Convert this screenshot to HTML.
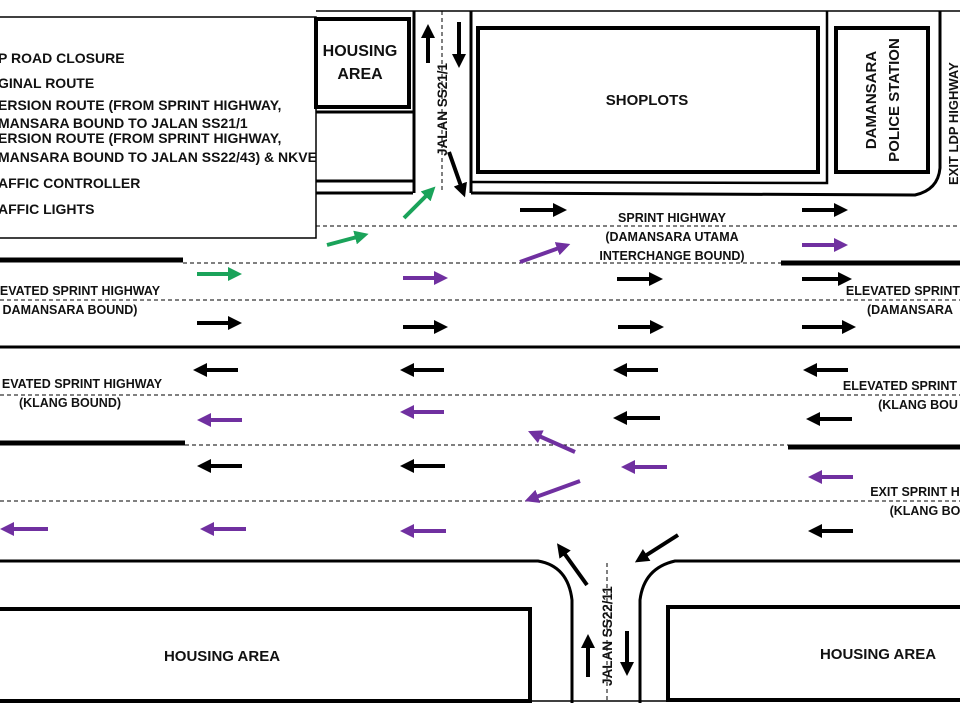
<!DOCTYPE html>
<html><head><meta charset="utf-8"><style>
html,body{margin:0;padding:0;background:#fff;}
svg{display:block;}
text{font-family:"Liberation Sans",sans-serif;font-weight:bold;fill:#111;}
</style></head><body>
<svg width="960" height="720" viewBox="0 0 960 720" xmlns="http://www.w3.org/2000/svg">
<defs>
<marker id="hk" markerUnits="userSpaceOnUse" markerWidth="14" markerHeight="14" refX="2" refY="7" orient="auto"><path d="M0,0 L14,7 L0,14 Z" fill="#000"/></marker>
<marker id="hp" markerUnits="userSpaceOnUse" markerWidth="14" markerHeight="14" refX="2" refY="7" orient="auto"><path d="M0,0 L14,7 L0,14 Z" fill="#7030a0"/></marker>
<marker id="hg" markerUnits="userSpaceOnUse" markerWidth="14" markerHeight="14" refX="2" refY="7" orient="auto"><path d="M0,0 L14,7 L0,14 Z" fill="#1aa35a"/></marker>
</defs>
<g fill="none" stroke="#000">
<line x1="316" y1="11" x2="960" y2="11" stroke-width="1.5"/>
<rect x="-5" y="17" width="321" height="221" stroke-width="1.5" fill="#fff"/>
<rect x="316" y="19" width="93" height="88" stroke-width="4"/>
<line x1="316" y1="112" x2="413" y2="112" stroke-width="3"/>
<line x1="316" y1="181" x2="413" y2="181" stroke-width="3"/>
<line x1="316" y1="193" x2="413" y2="193" stroke-width="3"/>
<line x1="414" y1="11" x2="414" y2="193" stroke-width="3"/>
<line x1="442" y1="11" x2="442" y2="190" stroke-width="1" stroke-dasharray="4,3"/>
<line x1="471" y1="11" x2="471" y2="193" stroke-width="3"/>
<path d="M471,193 L915,195 Q938,190 940,168 L940,11" stroke-width="3"/>
<path d="M827,11 L827,183 L472,182" stroke-width="2.5"/>
<rect x="478" y="28" width="340" height="144" stroke-width="4"/>
<rect x="836" y="28" width="92" height="144" stroke-width="4"/>
<line x1="316" y1="226" x2="960" y2="226" stroke-width="1" stroke-dasharray="4,3"/>
<line x1="183" y1="263" x2="781" y2="263" stroke-width="1" stroke-dasharray="4,3"/>
<line x1="0" y1="260" x2="183" y2="260" stroke-width="5"/>
<line x1="781" y1="263" x2="960" y2="263" stroke-width="5"/>
<line x1="0" y1="300" x2="960" y2="300" stroke-width="1" stroke-dasharray="4,3"/>
<line x1="0" y1="347" x2="960" y2="347" stroke-width="3"/>
<line x1="0" y1="395" x2="960" y2="395" stroke-width="1" stroke-dasharray="4,3"/>
<line x1="0" y1="443" x2="185" y2="443" stroke-width="5"/>
<line x1="185" y1="445" x2="788" y2="445" stroke-width="1" stroke-dasharray="4,3"/>
<line x1="788" y1="447" x2="960" y2="447" stroke-width="5"/>
<line x1="0" y1="501" x2="960" y2="501" stroke-width="1" stroke-dasharray="4,3"/>
<path d="M0,561 L538,561 Q568,566 572,600 L572,703" stroke-width="3"/>
<path d="M640,703 L640,600 Q644,568 675,561 L960,561" stroke-width="3"/>
<line x1="607" y1="563" x2="607" y2="700" stroke-width="1" stroke-dasharray="4,3"/>
<rect x="-5" y="609" width="535" height="92" stroke-width="4"/>
<rect x="668" y="607" width="300" height="93" stroke-width="4"/>
<line x1="0" y1="701" x2="960" y2="701" stroke-width="1.5"/>
</g>
<g stroke="#000" stroke-width="4" marker-end="url(#hk)">
<line x1="520" y1="210" x2="555" y2="210"/><line x1="802" y1="210" x2="836" y2="210"/>
<line x1="197" y1="323" x2="230" y2="323"/><line x1="403" y1="327" x2="436" y2="327"/>
<line x1="617" y1="279" x2="651" y2="279"/><line x1="802" y1="279" x2="840" y2="279"/>
<line x1="618" y1="327" x2="652" y2="327"/><line x1="802" y1="327" x2="844" y2="327"/>
<line x1="238" y1="370" x2="205" y2="370"/><line x1="444" y1="370" x2="412" y2="370"/>
<line x1="658" y1="370" x2="625" y2="370"/><line x1="848" y1="370" x2="815" y2="370"/>
<line x1="660" y1="418" x2="625" y2="418"/><line x1="852" y1="419" x2="818" y2="419"/>
<line x1="242" y1="466" x2="209" y2="466"/><line x1="445" y1="466" x2="412" y2="466"/>
<line x1="853" y1="531" x2="820" y2="531"/>
<line x1="428" y1="63" x2="428" y2="36"/><line x1="459" y1="22" x2="459" y2="56"/>
<line x1="449" y1="152" x2="461" y2="186"/>
<line x1="587" y1="585" x2="564" y2="553"/><line x1="678" y1="535" x2="645" y2="556"/>
<line x1="588" y1="677" x2="588" y2="646"/><line x1="627" y1="631" x2="627" y2="664"/>
</g>
<g stroke="#7030a0" stroke-width="4" marker-end="url(#hp)">
<line x1="520" y1="262" x2="559" y2="248"/><line x1="802" y1="245" x2="836" y2="245"/>
<line x1="403" y1="278" x2="436" y2="278"/>
<line x1="242" y1="420" x2="209" y2="420"/><line x1="444" y1="412" x2="412" y2="412"/>
<line x1="667" y1="467" x2="633" y2="467"/><line x1="853" y1="477" x2="820" y2="477"/>
<line x1="48" y1="529" x2="12" y2="529"/><line x1="246" y1="529" x2="212" y2="529"/>
<line x1="446" y1="531" x2="412" y2="531"/>
<line x1="575" y1="452" x2="539" y2="436"/><line x1="580" y1="481" x2="536" y2="497"/>
</g>
<g stroke="#1aa35a" stroke-width="4" marker-end="url(#hg)">
<line x1="197" y1="274" x2="230" y2="274"/>
<line x1="327" y1="245" x2="357" y2="237"/>
<line x1="404" y1="218" x2="427" y2="195"/>
</g>
<g font-size="14">
<text x="-2" y="63">P ROAD CLOSURE</text>
<text x="-2" y="88">GINAL ROUTE</text>
<text x="-2" y="110">ERSION ROUTE (FROM SPRINT HIGHWAY,</text>
<text x="-2" y="128">MANSARA BOUND TO JALAN SS21/1</text>
<text x="-2" y="143">ERSION ROUTE (FROM SPRINT HIGHWAY,</text>
<text x="-2" y="162">MANSARA BOUND TO JALAN SS22/43) &amp; NKVE</text>
<text x="-2" y="188">AFFIC CONTROLLER</text>
<text x="-2" y="214">AFFIC LIGHTS</text>
</g>
<text x="360" y="56" font-size="16" text-anchor="middle">HOUSING</text>
<text x="360" y="79" font-size="16" text-anchor="middle">AREA</text>
<text x="647" y="105" font-size="15" text-anchor="middle">SHOPLOTS</text>
<text transform="translate(876,100) rotate(-90)" font-size="15" text-anchor="middle">DAMANSARA</text>
<text transform="translate(899,100) rotate(-90)" font-size="15" text-anchor="middle">POLICE STATION</text>
<text transform="translate(958,185) rotate(-90)" font-size="13" text-anchor="start">EXIT LDP HIGHWAY</text>
<text transform="translate(447,156) rotate(-90)" font-size="13.5" text-anchor="start">JALAN SS21/1</text>
<text transform="translate(612,686) rotate(-90)" font-size="13.5" text-anchor="start">JALAN SS22/11</text>
<g font-size="12.5" text-anchor="middle">
<text x="672" y="222">SPRINT HIGHWAY</text>
<text x="672" y="241">(DAMANSARA UTAMA</text>
<text x="672" y="260">INTERCHANGE BOUND)</text>
<text x="80" y="295">EVATED SPRINT HIGHWAY</text>
<text x="70" y="314">DAMANSARA BOUND)</text>
<text x="82" y="388">EVATED SPRINT HIGHWAY</text>
<text x="70" y="407">(KLANG BOUND)</text>
<text x="903" y="295">ELEVATED SPRINT</text>
<text x="910" y="314">(DAMANSARA</text>
<text x="900" y="390">ELEVATED SPRINT</text>
<text x="918" y="409">(KLANG BOU</text>
<text x="915" y="496">EXIT SPRINT H</text>
<text x="925" y="515">(KLANG BO</text>
</g>
<text x="222" y="661" font-size="15" text-anchor="middle">HOUSING AREA</text>
<text x="878" y="659" font-size="15" text-anchor="middle">HOUSING AREA</text>
</svg>
</body></html>
